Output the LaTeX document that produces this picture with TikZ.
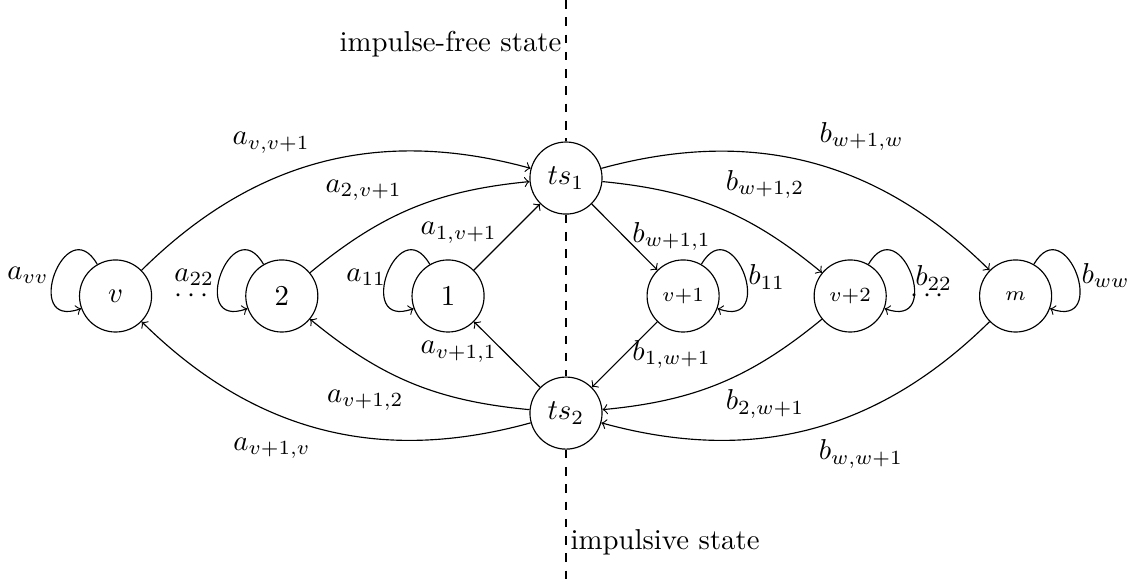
\documentclass[tikz,border=0pt]{standalone}
\usepackage{amsmath,amssymb}
\usepackage{tikz}

\begin{document}
\begin{tikzpicture}[state/.style={circle, draw, minimum size=8.8mm, inner sep=0pt}]
    \useasboundingbox (-6.911,-3.529) rectangle (6.960,3.614);
    % states
    \node[state] (v) at (-5.50,0) {$v$};
    \node[state] (n2) at (-3.47,0) {$2$};
    \node[state] (n1) at (-1.44,0) {$1$};
    \node[state] (ts1) at (0,1.44) {$ts_1$};
    \node[state] (ts2) at (0,-1.43) {$ts_2$};
    \node[state, font=\scriptsize] (v1) at (1.43,0) {$v{+}1$};
    \node[state, font=\scriptsize] (v2) at (3.47,0) {$v{+}2$};
    \node[state, font=\scriptsize] (m) at (5.49,0) {$m$};
    % divider
    \coordinate (top) at (0,3.614);
    \coordinate (bot) at (0,-3.529);
    \draw[dashed] (top) -- (ts1) -- (ts2) -- (bot);
    \node[anchor=east] (free) at (0.068,3.077) {impulse-free state};
    \node[anchor=west] (imp) at (-0.068,-3.004) {impulsive state};
    % transitions
    \draw[->] (v) to[bend left=30] (ts1);
    \draw[->] (n2) to[bend left=17] (ts1);
    \draw[->] (n1) -- (ts1);
    \draw[->] (ts1) -- (v1);
    \draw[->] (ts1) to[bend left=17] (v2);
    \draw[->] (ts1) to[bend left=30] (m);
    \draw[->] (v1) -- (ts2);
    \draw[->] (v2) to[bend left=17] (ts2);
    \draw[->] (m) to[bend left=30] (ts2);
    \draw[->] (ts2) -- (n1);
    \draw[->] (ts2) to[bend left=17] (n2);
    \draw[->] (ts2) to[bend left=30] (v);
    % self loops
    \draw[->] (v.120) .. controls +(120:0.78) and +(200:0.78) .. (v.200);
    \draw[->] (n2.120) .. controls +(120:0.78) and +(200:0.78) .. (n2.200);
    \draw[->] (n1.120) .. controls +(120:0.78) and +(200:0.78) .. (n1.200);
    \draw[->] (v1.60) .. controls +(60:0.78) and +(-20:0.78) .. (v1.-20);
    \draw[->] (v2.60) .. controls +(60:0.78) and +(-20:0.78) .. (v2.-20);
    \draw[->] (m.60) .. controls +(60:0.78) and +(-20:0.78) .. (m.-20);
    % labels
    \node (avv) at (-6.57,0.25) {$a_{vv}$};
    \node (a22) at (-4.54,0.23) {$a_{22}$};
    \node (a11) at (-2.44,0.23) {$a_{11}$};
    \node (b11) at (2.45,0.23) {$b_{11}$};
    \node (b22) at (4.49,0.22) {$b_{22}$};
    \node (bww) at (6.59,0.25) {$b_{ww}$};
    \node[inner sep=1pt] (ldots) at (-4.54,0.0) {$\cdots$};
    \node[inner sep=1pt] (rdots) at (4.44,0.0) {$\cdots$};
    \node (avv1) at (-3.60,1.87) {$a_{v,v+1}$};
    \node (a2v1) at (-2.47,1.29) {$a_{2,v+1}$};
    \node (a1v1) at (-1.31,0.77) {$a_{1,v+1}$};
    \node (av11) at (-1.31,-0.68) {$a_{v+1,1}$};
    \node (av12) at (-2.45,-1.27) {$a_{v+1,2}$};
    \node (av1v) at (-3.59,-1.86) {$a_{v+1,v}$};
    \node (bw1w) at (3.61,1.95) {$b_{w+1,w}$};
    \node (bw12) at (2.43,1.36) {$b_{w+1,2}$};
    \node (bw11) at (1.29,0.73) {$b_{w+1,1}$};
    \node (b1w1) at (1.29,-0.71) {$b_{1,w+1}$};
    \node (b2w1) at (2.43,-1.32) {$b_{2,w+1}$};
    \node (bww1) at (3.60,-1.93) {$b_{w,w+1}$};
\end{tikzpicture}
\end{document}
